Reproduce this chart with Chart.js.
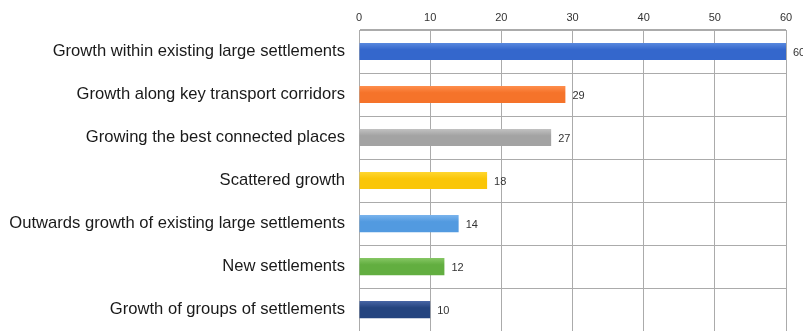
<!DOCTYPE html>
<html>
<head>
<meta charset="utf-8">
<script src="https://cdn.jsdelivr.net/npm/chart.js@4/dist/chart.umd.min.js"></script>
<style>
  html, body { margin: 0; padding: 0; background: #fff; overflow: hidden; }
  #wrap { width: 803px; height: 355px; position: relative; }
</style>
</head>
<body>
<div id="wrap"><canvas id="grafico"></canvas></div>
<script>
// dados
const categorias = [
  'Growth within existing large settlements',
  'Growth along key transport corridors',
  'Growing the best connected places',
  'Scattered growth',
  'Outwards growth of existing large settlements',
  'New settlements',
  'Growth of groups of settlements'
];
const valores = [60, 29, 27, 18, 14, 12, 10];
const ticksX = [0, 10, 20, 30, 40, 50, 60];

// cores (topo claro, base escura)
const coresTopo = ['#5b8be0', '#ff9050', '#c4c4c4', '#ffd833', '#7db6ee', '#88c866', '#4a68a8'];
const coresBase = ['#3467cc', '#f5732a', '#a3a3a3', '#fac608', '#529ae0', '#62ae40', '#24447f'];

// gradiente vertical em cada barra
function corBarra(ctx) {
  const chart = ctx.chart;
  const i = ctx.dataIndex;
  const y = chart.scales && chart.scales.y;
  if (!chart.chartArea || !y || y.getPixelForValue(i) === undefined) return coresBase[i];
  const centro = y.getPixelForValue(i);
  const g = chart.ctx.createLinearGradient(0, centro - 9, 0, centro + 9);
  g.addColorStop(0, coresTopo[i]);
  g.addColorStop(0.4, coresBase[i]);
  g.addColorStop(1, coresBase[i]);
  return g;
}

// rótulos no fim das barras
const rotulos = {
  id: 'rotulos',
  afterDatasetsDraw(chart) {
    const ctx = chart.ctx;
    const meta = chart.getDatasetMeta(0);
    ctx.save();
    ctx.font = '11px "Liberation Sans", Arial, sans-serif';
    ctx.fillStyle = '#333';
    ctx.textBaseline = 'middle';
    meta.data.forEach((barra, i) => {
      ctx.fillText(String(valores[i]), barra.x + 7, barra.y + 1);
    });
    ctx.restore();
  }
};

const ctx = document.getElementById('grafico').getContext('2d');
const grafico = new Chart(ctx, {
  type: 'bar',
  data: {
    labels: categorias,
    datasets: [{
      data: valores,
      backgroundColor: corBarra,
      borderWidth: 0,
      barPercentage: 0.8,
      categoryPercentage: 0.5
    }]
  },
  options: {
    indexAxis: 'y',
    responsive: true,
    maintainAspectRatio: false,
    animation: false,
    layout: { padding: { left: 0, right: 17, top: 0, bottom: 0 } },
    plugins: {
      legend: { display: false },
      tooltip: { enabled: false }
    },
    scales: {
      x: {
        position: 'top',
        min: 0,
        max: 60,
        afterBuildTicks: s => { s.ticks = ticksX.map(v => ({ value: v })); },
        afterFit: s => { s.height = 30; },
        grid: { color: '#ababab', lineWidth: 1, drawTicks: false },
        border: { color: '#ababab' },
        ticks: {
          padding: 5,
          color: '#333',
          font: { size: 11, family: '"Liberation Sans", Arial, sans-serif' }
        }
      },
      y: {
        afterFit: s => { s.width = 359; },
        grid: { color: '#ababab', lineWidth: 1, drawTicks: false },
        border: { color: '#ababab' },
        ticks: {
          padding: 14,
          color: '#1a1a1a',
          font: { size: 16.6, family: '"Liberation Sans", Arial, sans-serif' }
        }
      }
    }
  },
  plugins: [rotulos]
});
</script>
</body>
</html>
